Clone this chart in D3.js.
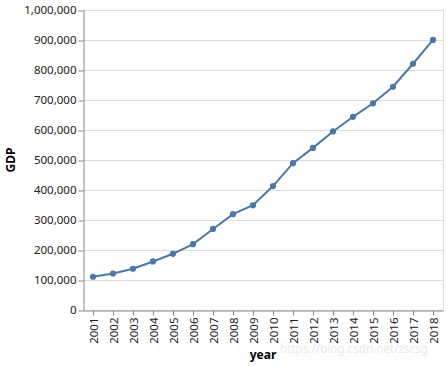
<!DOCTYPE html>
<html><head><meta charset="utf-8">
<script src="https://cdn.jsdelivr.net/npm/d3@7"></script>
<style>body{margin:0;background:#fff}svg{display:block}</style>
</head><body>
<script>
const years = ["2001","2002","2003","2004","2005","2006","2007","2008","2009","2010","2011","2012","2013","2014","2015","2016","2017","2018"];
const gdp = [110863,121717,137422,161840,187319,219439,270232,319516,349081,413030,489301,540367,595244,643974,689052,744127,820754,900309];
const yTicks = [0,100000,200000,300000,400000,500000,600000,700000,800000,900000,1000000];
const xTitle = "year", yTitle = "GDP";
const watermark = "https://blog.csdn.net/zscsg";

const W = 448, H = 366;
const m = {left:83, top:10, width:360, height:300};
const font = "'Noto Sans', 'Open Sans', sans-serif";
const svg = d3.select("body").append("svg").attr("width",W).attr("height",H);

const x = d3.scalePoint().domain(years).range([0,m.width]).padding(0.5);
const y = d3.scaleLinear().domain([0,1000000]).range([m.height,0]);

const g = svg.append("g").attr("transform",`translate(${m.left},${m.top})`);

// grid
g.append("g").selectAll("line").data(yTicks).join("line")
  .attr("x1",0).attr("x2",m.width).attr("y1",d=>y(d)+0.5).attr("y2",d=>y(d)+0.5)
  .attr("stroke","#ddd").attr("stroke-width",1);
// view border right
g.append("line").attr("x1",m.width+0.5).attr("x2",m.width+0.5).attr("y1",0).attr("y2",m.height)
  .attr("stroke","#ddd");

// y axis
const ya = g.append("g").attr("transform","translate(0.5,0)")
  .call(d3.axisLeft(y).tickValues(yTicks).tickFormat(d3.format(",")).tickSize(5).tickPadding(2).tickSizeOuter(0));
ya.select(".domain").attr("stroke","#888");
ya.selectAll(".tick line").attr("stroke","#888").attr("transform","translate(0,0.5)");
ya.selectAll(".tick text").attr("font-family",font).attr("font-size",11.5).attr("fill","#222");

// x axis
const xa = g.append("g").attr("transform",`translate(0,${m.height+0.5})`)
  .call(d3.axisBottom(x).tickSize(5).tickPadding(2).tickSizeOuter(0));
xa.select(".domain").attr("stroke","#888");
xa.selectAll(".tick line").attr("stroke","#888");
xa.selectAll(".tick text").attr("font-family",font).attr("font-size",11.5).attr("fill","#222")
  .attr("transform","rotate(-90)").attr("text-anchor","end").attr("dy","0.35em")
  .attr("y",0).attr("x",-7);

// line
const line = d3.line().x((d,i)=>x(years[i])).y(d=>y(d));
g.append("path").datum(gdp).attr("d",line).attr("fill","none")
  .attr("stroke","#4c78a8").attr("stroke-width",2);
g.append("g").selectAll("circle").data(gdp).join("circle")
  .attr("cx",(d,i)=>x(years[i])).attr("cy",d=>y(d)).attr("r",3.1).attr("fill","#4c78a8");

// titles
svg.append("text").attr("x",m.left+m.width/2).attr("y",359).attr("text-anchor","middle")
  .attr("font-family",font).attr("font-size",12).attr("font-weight","bold").text(xTitle);
svg.append("text").attr("transform",`translate(15,${m.top+m.height/2}) rotate(-90)`).attr("text-anchor","middle")
  .attr("font-family",font).attr("font-size",12).attr("font-weight","bold").text(yTitle);

// watermark
svg.append("text").attr("x",280).attr("y",353)
  .attr("textLength",148).attr("lengthAdjust","spacingAndGlyphs")
  .attr("font-family",font).attr("font-size",13).attr("fill","#e4e4e4").attr("fill-opacity",0.8).text(watermark);
</script>
</body></html>
